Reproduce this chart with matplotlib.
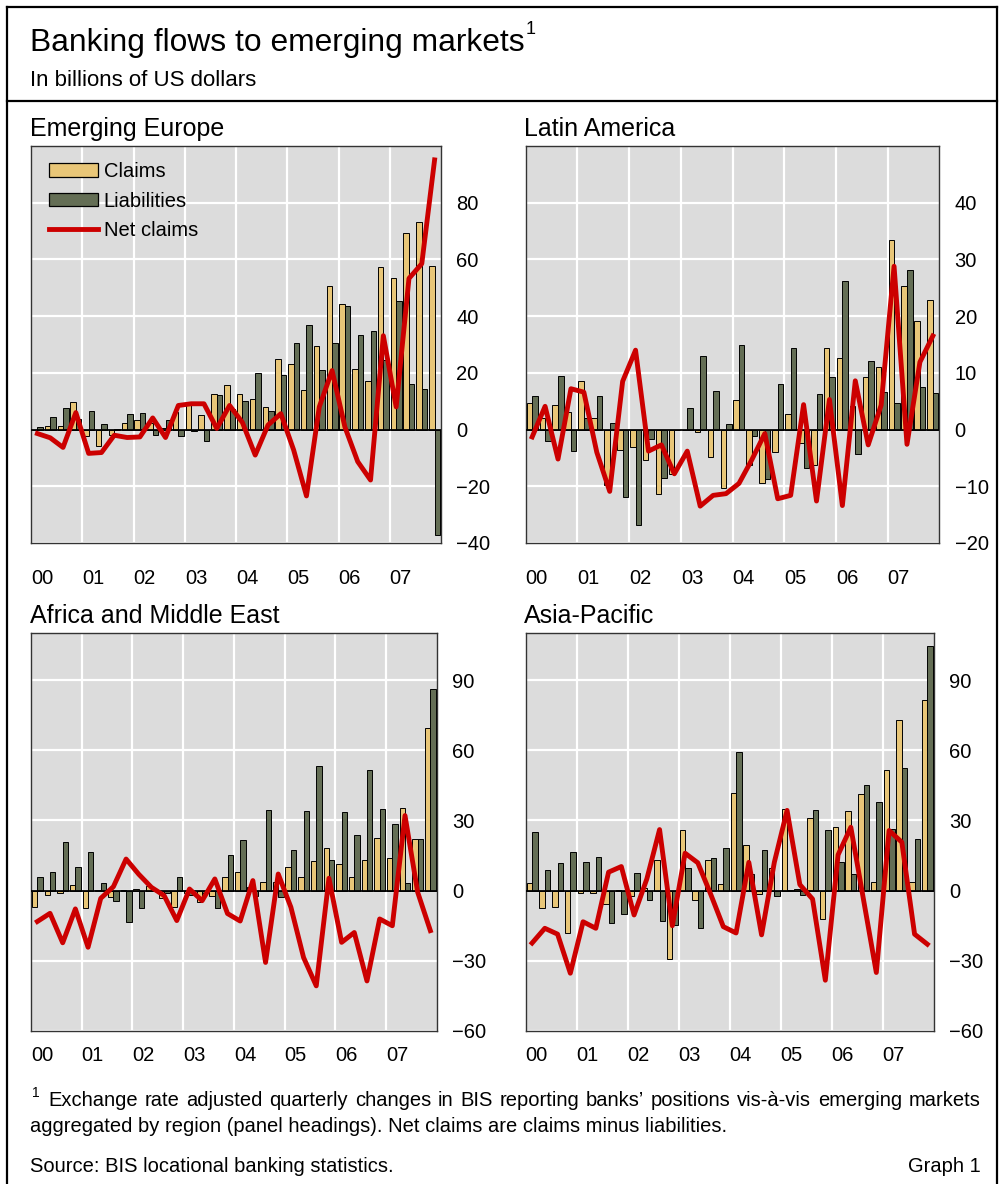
import numpy as np
import matplotlib
matplotlib.use('Agg')
import matplotlib.pyplot as plt
from matplotlib.lines import Line2D
from matplotlib.patches import Patch

plt.rcParams['font.family'] = ['Liberation Sans', 'DejaVu Sans']

# ---------------- data (quarterly, 2000Q1 .. 2007Q4) ----------------
years = [2000, 2001, 2002, 2003, 2004, 2005, 2006, 2007]
year_labels = ['00', '01', '02', '03', '04', '05', '06', '07']

eur_claims = [0.0, 1.3, 1.2, 9.6, -2.1, -5.8, -1.8, 2.3, 3.3, 2.2, 0.5, 6.3,
              8.7, 5.3, 12.4, 15.8, 12.4, 10.9, 8.0, 24.8, 23.1, 13.8, 29.4, 50.7,
              44.2, 21.4, 17.3, 57.4, 53.3, 69.2, 73.1, 57.7]
eur_liab = [1.0, 4.6, 7.7, 3.9, 6.4, 2.1, 0.2, 5.4, 5.8, -1.8, 3.3, -2.2,
            -0.4, -4.0, 12.3, 7.3, 10.2, 20.0, 6.7, 19.3, 30.7, 37.0, 21.0, 30.5,
            43.5, 33.3, 34.7, 24.5, 45.4, 16.1, 14.4, -37.3]
eur_net = [-1.4, -2.9, -6.3, 6.0, -8.4, -8.1, -2.0, -2.8, -2.6, 4.1, -2.8, 8.5,
           9.1, 9.1, 0.4, 8.5, 2.5, -9.0, 1.6, 5.6, -7.2, -23.4, 8.0, 20.8,
           0.9, -11.3, -17.8, 33.1, 8.0, 53.3, 58.5, 95.1]

lat_claims = [4.6, 2.1, 4.3, 3.1, 8.5, 2.0, -9.8, -3.6, -3.0, -5.3, -11.3, -7.8,
              0.0, -0.4, -4.8, -10.3, 5.3, -6.2, -9.5, -4.0, 2.8, -2.4, -6.2, 14.3,
              12.7, 4.1, 9.3, 11.0, 33.5, 25.3, 19.2, 22.9]
lat_liab = [6.0, -2.0, 9.5, -3.8, 2.1, 6.0, 1.2, -11.9, -16.8, -1.6, -8.5, 0.0,
            3.8, 13.0, 6.8, 1.0, 15.0, -1.1, -8.8, 8.0, 14.3, -6.8, 6.3, 9.2,
            26.2, -4.3, 12.1, 6.7, 4.7, 28.1, 7.5, 6.5]
lat_net = [-1.3, 4.1, -5.2, 7.2, 6.6, -4.0, -10.9, 8.5, 14.0, -3.8, -2.7, -7.8,
           -3.8, -13.5, -11.6, -11.3, -9.5, -5.3, -0.7, -12.2, -11.6, 4.4, -12.6, 5.3,
           -13.4, 8.6, -2.7, 4.3, 28.8, -2.6, 11.9, 16.5]

afr_claims = [-7.1, -1.8, -0.9, 2.4, -7.4, 0.3, -2.6, 0.3, 0.6, 2.1, -3.3, -7.1,
              -1.0, -5.0, -2.1, 6.0, 8.1, 1.5, 3.9, 3.9, 10.0, 5.7, 12.6, 18.4,
              11.4, 5.7, 12.9, 22.6, 14.0, 35.3, 22.0, 69.4]
afr_liab = [6.0, 8.0, 21.0, 10.2, 16.4, 3.3, -4.6, -13.2, -7.4, 0.5, -1.0, 5.7,
            -2.0, -1.0, -7.4, 15.4, 21.6, -2.5, 34.3, -2.9, 17.4, 33.9, 53.1, 13.1,
            33.6, 23.9, 51.6, 35.0, 28.6, 3.3, 22.0, 86.4]
afr_net = [-13.2, -9.7, -22.3, -7.8, -24.2, -3.3, 1.7, 13.5, 7.0, 1.4, -2.1, -12.8,
           0.7, -4.3, 5.0, -9.8, -13.0, 4.3, -30.7, 7.1, -7.1, -28.6, -40.7, 5.3,
           -22.1, -17.9, -38.6, -12.1, -15.0, 32.1, -0.7, -17.1]

asi_claims = [3.1, -7.4, -6.9, -18.3, -1.1, -1.0, -5.7, 0.3, -2.4, 1.0, 13.3, -29.3,
              25.9, -4.0, 13.1, 2.9, 41.7, 19.3, -1.4, 9.7, 35.0, 0.9, 31.0, -12.1,
              27.4, 34.1, 41.1, 3.6, 51.7, 72.9, 3.6, 81.7]
asi_liab = [25.1, 9.0, 12.0, 16.7, 12.1, 14.4, -13.7, -9.9, 7.6, -3.9, -12.9, -14.6,
            9.7, -16.0, 14.1, 18.3, 59.3, 7.1, 17.4, -2.1, 0.4, -1.9, 34.6, 26.0,
            12.3, 7.1, 45.0, 37.7, 26.3, 52.3, 22.0, 104.6]
asi_net = [-22.4, -16.1, -18.6, -35.3, -13.3, -16.1, 7.9, 10.3, -10.4, 5.0, 26.1, -15.0,
           16.0, 11.9, -1.4, -15.4, -18.1, 12.1, -18.9, 12.1, 34.3, 2.6, -3.6, -38.3,
           15.3, 27.1, -4.0, -35.0, 25.7, 20.7, -18.6, -22.9]

series_names = ['Claims', 'Liabilities', 'Net claims']

# ---------------- style ----------------
TAN = '#E8C678'
OLIVE = '#646E55'
RED = '#CC0000'
BG = '#DCDCDC'
W, H = 999, 1184
FS = 14.5

fig = plt.figure(figsize=(W / 100, H / 100), dpi=100)


def fx(px):
    return px / W


def fy(py):
    return 1 - py / H


def rect(x0, y0, x1, y1):
    return [fx(x0), fy(y1), fx(x1) - fx(x0), (y1 - y0) / H]


n_q = len(eur_claims)
qpos = np.array(years[0] + (np.arange(n_q) + 0.5) / 4.0)
bw = 0.107

panels = [
    ('Emerging Europe', eur_claims, eur_liab, eur_net, (-40, 100), [-40, -20, 0, 20, 40, 60, 80],
     rect(31, 146, 441, 543), (30, 129), 19),
    ('Latin America', lat_claims, lat_liab, lat_net, (-20, 50), [-20, -10, 0, 10, 20, 30, 40],
     rect(525.7, 146, 939.3, 543), (524, 129), 19),
    ('Africa and Middle East', afr_claims, afr_liab, afr_net, (-60, 110), [-60, -30, 0, 30, 60, 90],
     rect(31, 633.3, 436.7, 1031), (30, 616), 10.5),
    ('Asia-Pacific', asi_claims, asi_liab, asi_net, (-60, 110), [-60, -30, 0, 30, 60, 90],
     rect(525.7, 633.3, 933.7, 1031), (524, 616), 10.5),
]

axes = []
for title, cl, li, ne, ylim, yt, r, tpos, xpad in panels:
    ax = fig.add_axes(r)
    axes.append(ax)
    ax.set_facecolor(BG)
    ax.bar(qpos, cl, width=-bw, align='edge', color=TAN, edgecolor='black', linewidth=0.7, zorder=3)
    ax.bar(qpos, li, width=bw, align='edge', color=OLIVE, edgecolor='black', linewidth=0.7, zorder=3)
    ax.axhline(0, color='black', lw=1.3, zorder=4)
    ax.plot(qpos, ne, color=RED, lw=3.5, zorder=5)
    ax.set_xlim(years[0], years[-1] + 1)
    ax.set_ylim(*ylim)
    ax.set_yticks(yt)
    ax.yaxis.tick_right()
    ax.set_xticks(years)
    ax.set_xticklabels(year_labels, ha='left')
    ax.tick_params(axis='y', length=0, pad=11, labelsize=FS)
    ax.tick_params(axis='x', length=0, pad=xpad, labelsize=FS)
    ax.grid(True, color='white', lw=1.6, zorder=1)
    ax.set_axisbelow(True)
    for s in ax.spines.values():
        s.set_color('#333333')
        s.set_linewidth(1.0)
    fig.text(fx(tpos[0]), fy(tpos[1]), title, fontsize=18, va='center', ha='left')

# legend in first panel
handles = [Patch(facecolor=TAN, edgecolor='black', linewidth=0.9),
           Patch(facecolor=OLIVE, edgecolor='black', linewidth=0.9),
           Line2D([0], [0], color=RED, lw=3.5)]
axes[0].legend(handles, series_names, loc='upper left', bbox_to_anchor=(0.045, 0.96),
               frameon=False, fontsize=FS, handlelength=2.4, handleheight=0.65,
               handletextpad=0.3, labelspacing=0.53, borderaxespad=0, borderpad=0)

# ---------------- header / footer text ----------------
t = fig.text(fx(30), fy(51), 'Banking flows to emerging markets', fontsize=22.9, ha='left', va='baseline')
fig.canvas.draw()
renderer = fig.canvas.get_renderer()
bb = t.get_window_extent(renderer)
fig.text(bb.x1 / W + 0.001, fy(34), '1', fontsize=13, ha='left', va='baseline')
fig.text(fx(30), fy(86), 'In billions of US dollars', fontsize=16, ha='left', va='baseline')

fig.text(fx(32), fy(1097), '1', fontsize=10, ha='left', va='baseline')

# justified first footnote line (48 px .. 981 px)
line1 = 'Exchange rate adjusted quarterly changes in BIS reporting banks\u2019 positions vis-\u00e0-vis emerging markets'
words = line1.split(' ')
word_texts = [fig.text(0, fy(1106), w_, fontsize=FS, ha='left', va='baseline') for w_ in words]
widths = [wt.get_window_extent(renderer).width for wt in word_texts]
x_left, x_right = 48, 981
gap = (x_right - x_left - sum(widths)) / (len(words) - 1)
xcur = x_left
for wt, wd in zip(word_texts, widths):
    wt.set_x(fx(xcur))
    xcur += wd + gap

fig.text(fx(30), fy(1132), 'aggregated by region (panel headings). Net claims are claims minus liabilities.',
         fontsize=FS, ha='left', va='baseline')
fig.text(fx(30), fy(1172), 'Source: BIS locational banking statistics.', fontsize=FS, ha='left', va='baseline')
fig.text(fx(981), fy(1172), 'Graph 1', fontsize=FS, ha='right', va='baseline')

# ---------------- frame ----------------
lw = 1.6
fig.add_artist(Line2D([fx(7), fx(7)], [fy(7), 0], color='black', lw=lw, transform=fig.transFigure))
fig.add_artist(Line2D([fx(997), fx(997)], [fy(7), 0], color='black', lw=lw, transform=fig.transFigure))
fig.add_artist(Line2D([fx(7), fx(997)], [fy(7), fy(7)], color='black', lw=lw, transform=fig.transFigure))
fig.add_artist(Line2D([fx(7), fx(997)], [fy(101), fy(101)], color='black', lw=lw, transform=fig.transFigure))

fig.savefig('out.png', dpi=100)
